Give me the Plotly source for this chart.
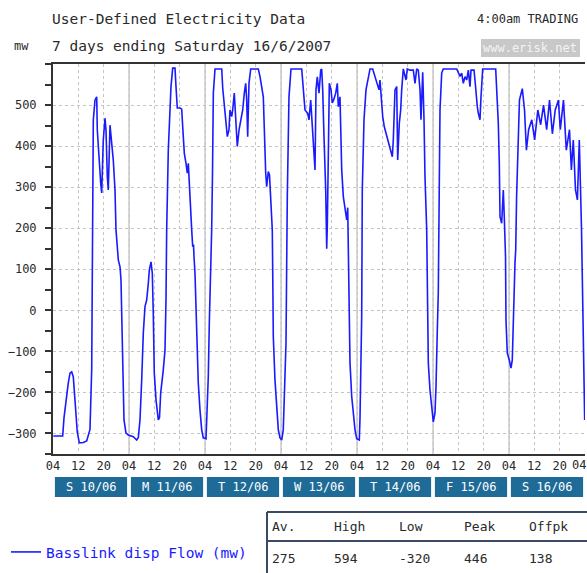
import plotly.graph_objects as go

# ---------------- data ----------------
hours = [0.1, 3.06, 3.47, 4.1, 4.83, 5.37, 5.9, 6.41, 7.26, 7.67, 8.31, 9.57, 10.64, 11.68, 12.22,
         12.73, 13.26, 13.8, 13.99, 14.62, 15.06, 15.38, 15.88, 16.42, 16.74, 17.15, 17.46, 18.0,
         18.54, 19.04, 19.58, 19.89, 20.62, 21.16, 21.47, 22.01, 22.42, 23.05, 23.78,
         25.36, 26.43, 26.94, 27.47, 28.01, 28.52, 29.05, 29.58, 30.1, 30.41, 30.95, 31.36, 31.67,
         31.99, 32.53, 33.25, 33.63, 34.01, 34.83, 35.37, 35.68, 35.9, 36.41, 36.95, 37.26, 37.8,
         38.53, 38.84, 39.25, 40.11, 40.64, 40.96, 41.46, 42.0, 42.41, 42.73, 43.04, 43.26, 43.8,
         44.12, 44.37, 44.53, 44.84, 45.38, 45.88, 46.42, 46.96, 47.46, 47.78, 48.32, 48.54, 49.04,
         49.36, 49.9, 50.11, 50.37, 50.63, 51.16, 53.28, 53.6, 54.1, 54.54, 55.05, 55.58, 55.89,
         56.43, 56.75, 57.25, 57.7, 58.2, 58.74, 59.37, 59.91, 60.41, 60.85, 61.17, 61.48, 61.89,
         62.43, 64.83, 65.37, 66.41, 66.73, 67.17, 67.48, 67.99, 68.37, 68.84, 69.25, 69.38, 69.57,
         70.1, 70.64, 71.15, 71.68, 72.22, 72.72, 73.26, 73.58, 73.8, 73.99, 74.52, 75.16, 78.54,
         79.04, 79.58, 80.43, 80.84, 81.38, 81.88, 82.42, 82.74, 83.05, 83.46, 84.0, 84.54, 84.85,
         85.17, 85.58, 86.12, 86.43, 86.62, 86.94, 87.26, 87.79, 88.2, 88.74, 89.27, 89.78, 90.1,
         90.63, 90.85, 91.17, 91.68, 92.21, 92.75, 93.07, 93.26, 93.47, 93.79, 94.33, 94.83, 95.37,
         95.91, 96.73, 96.95, 97.48, 97.67, 98.21, 98.84, 99.57, 100.11, 100.96, 101.68, 102.41,
         102.95, 103.26, 103.58, 104.12, 104.62, 105.16, 105.69, 106.2, 106.64, 107.15, 107.46,
         108.0, 108.54, 108.85, 109.36, 109.8, 110.11, 110.62, 111.47, 111.88, 112.74, 113.78,
         114.32, 114.85, 115.36, 115.9, 116.21, 116.75, 117.16, 117.47, 118.01, 118.2, 118.52,
         119.05, 119.59, 120.09, 120.63, 120.95, 121.36, 121.67, 121.99, 122.21, 122.75, 123.25,
         127.48, 127.99, 128.53, 129.06, 129.57, 130.11, 130.64, 131.15, 131.68, 132.0, 132.95,
         133.26, 133.58, 133.99, 134.31, 134.84, 135.16, 135.69, 139.8, 140.11, 140.62, 140.94,
         141.16, 141.69, 142.0, 142.2, 142.51, 142.74, 142.9, 143.05, 143.46, 144.09, 144.63,
         145.04, 145.36, 145.89, 146.12,
         146.4, 147.3, 148.2, 148.9, 149.5, 150.2, 151.2, 152.1, 153.1, 154.0, 154.9, 155.9, 156.8,
         157.7, 158.6, 159.6, 160.2, 161.2, 162.1, 163.1, 163.7, 164.3, 165.0, 165.6, 166.2, 166.9,
         167.4, 167.9]
flow = [-306, -306, -262, -218, -177, -153, -150, -162, -257, -297, -323, -322, -318, -290, -145,
        464, 512, 520, 439, 350, 310, 286, 415, 468, 439, 326, 293, 451,
        407, 366, 293, 196, 123, 106, 74, -113, -267, -299, -304,
        -308, -316, -310, -267, -170, -55, 9, 25, 66, 98, 118, 90, -8,
        -153, -218, -267, -262, -201, -145, -97, 25, 196, 390, 480, 545, 590,
        590, 545, 493, 493, 490, 447, 383, 358, 334, 358, 301, 261, 196,
        155, 160, 131, 90, -48, -177, -243, -291, -311, -311, -313, -267, -162,
        -31, 115, 196, 334, 529, 588, 588, 541, 505, 464, 423, 440, 488,
        472, 488, 529, 447, 399, 439, 464, 488, 529, 553, 512, 423, 553,
        588, 588, 569, 520, 423, 334, 301, 338, 330, 261, 196, 98, -64,
        -170, -226, -291, -311, -316, -291, -177, -80, 115, 277, 520, 588, 588,
        537, 488, 480, 464, 512, 439, 374, 342, 537, 569, 529, 585, 588,
        537, 423, 293, 150, 204, 374, 553, 537, 505, 515, 529, 553, 496,
        520, 439, 342, 277, 253, 220, 250, 131, -8, -128, -210, -250, -291,
        -313, -316, -262, -15, 293, 464, 537, 569, 588, 588, 569, 553,
        537, 561, 529, 472, 447, 431, 415, 407, 390, 374, 415,
        537, 545, 366, 456, 488, 537, 588, 561, 588, 585, 585,
        553, 588, 585, 537, 464, 580, 464, 326, 196, 33, -128,
        -194, -243, -272, -250, -186, -48, 42, 310, 488, 578, 588,
        588, 578, 570, 578, 553, 569, 561, 585, 545, 585, 585,
        561, 520, 496, 480, 464, 520, 588, 588, 545, 456, 358,
        228, 212, 253, 293, 228, 171, 131, -24, -104, -121, -141,
        -121, 1, 115, 147,
        277, 512, 540, 488, 390, 440, 464, 415, 488, 452, 500, 440, 512,
        430, 488, 512, 440, 512, 390, 440, 342, 415, 293, 269, 415, 196,
        -48, -267]

tick_hours = list(range(0, 169, 8))
tick_text = ["04", "12", "20"] * 7 + [""]
last_tick_text = "04"
y_ticks = list(range(-300, 501, 100))
day_starts = [0, 24, 48, 72, 96, 120, 144]
day_labels = ["S 10/06", "M 11/06", "T 12/06", "W 13/06", "T 14/06", "F 15/06", "S 16/06"]
stat_names = ["Av.", "High", "Low", "Peak", "Offpk"]
stat_values = ["275", "594", "-320", "446", "138"]
series_name = "Basslink disp Flow (mw)"

# ---------------- layout helpers ----------------
W, H = 587, 573
L, R, T, B = 53, 2, 64, 119
PW, PH = W - L - R, H - T - B
FONT = "DejaVu Sans Mono"
INK = "#2a2a2a"
BLUE = "#1a1aff"
BOX = "#1f6b97"


def px(x):
    return (x - L) / PW


def py(y):
    return (H - B - y) / PH


def note(x, y, text, size, color=INK, xanchor="left", **kw):
    return dict(x=px(x), y=py(y), xref="paper", yref="paper", text=text,
                xanchor=xanchor, yanchor="middle", showarrow=False,
                font=dict(family=FONT, size=size, color=color), **kw)


fig = go.Figure()
fig.add_trace(go.Scatter(x=hours, y=flow, mode="lines", name=series_name,
                         line=dict(color=BLUE, width=1.6), showlegend=True))

shapes = []
annotations = []
# solid day gridlines
for d in day_starts[1:]:
    shapes.append(dict(type="line", xref="x", yref="paper", x0=d, x1=d, y0=0, y1=1,
                       line=dict(color="#bdbdbd", width=1.2), layer="below"))
# day boxes
for d, lab in zip(day_starts, day_labels):
    shapes.append(dict(type="rect", xref="x", yref="paper", x0=d + 0.6, x1=d + 23.4,
                       y0=py(497), y1=py(477), fillcolor=BOX, line=dict(width=0)))
    annotations.append(dict(x=d + 12, y=py(487), xref="x", yref="paper", text=lab,
                            xanchor="center", yanchor="middle", showarrow=False,
                            font=dict(family=FONT, size=12, color="white")))

# final hour label, kept inside the page edge
annotations.append(note(587, 465, last_tick_text, 12, xanchor="right", borderpad=0))

# titles
annotations += [
    note(50, 19, "User-Defined Electricity Data", 14.5),
    note(50, 46, "7 days ending Saturday 16/6/2007", 14.5),
    note(12, 46, "mw", 12),
    note(580, 19, "4:00am TRADING", 12, xanchor="right"),
]
shapes.append(dict(type="rect", xref="paper", yref="paper", x0=px(481), x1=px(580),
                   y0=py(57), y1=py(39), fillcolor="#c8c8c8", line=dict(width=0)))
annotations.append(note(530, 48, "www.erisk.net", 12, color="#f4f4f4", xanchor="center"))

# stats table
TB = "#3a4a66"
shapes += [
    dict(type="line", xref="paper", yref="paper", x0=px(267), x1=px(267), y0=py(573), y1=py(512),
         line=dict(color=TB, width=2)),
    dict(type="line", xref="paper", yref="paper", x0=px(267), x1=px(587), y0=py(512), y1=py(512),
         line=dict(color=TB, width=2)),
    dict(type="line", xref="paper", yref="paper", x0=px(267), x1=px(587), y0=py(541), y1=py(541),
         line=dict(color=TB, width=2)),
]
col_x = [270, 332, 397, 462, 527]
for cx, nm, vl in zip(col_x, stat_names, stat_values):
    annotations.append(note(cx, 526, nm, 13))
    annotations.append(note(cx, 558, vl, 13))

fig.update_layout(
    width=W, height=H, margin=dict(l=L, r=R, t=T, b=B, autoexpand=False),
    paper_bgcolor="white", plot_bgcolor="white",
    shapes=shapes, annotations=annotations,
    legend=dict(x=px(6), y=py(552), xanchor="left", yanchor="middle",
                font=dict(family=FONT, size=14.5, color=BLUE), bgcolor="rgba(0,0,0,0)"),
    xaxis=dict(range=[0, 168], tickmode="array", tickvals=tick_hours, ticktext=tick_text,
               showgrid=True, gridcolor="#c4c4c4", griddash="dot", gridwidth=1,
               showline=True, linecolor="#333333", linewidth=2, mirror=True,
               ticks="", zeroline=False, automargin=False,
               tickfont=dict(family=FONT, size=12, color=INK)),
    yaxis=dict(range=[-350, 600], tickmode="array", tickvals=y_ticks,
               showgrid=True, gridcolor="#c4c4c4", griddash="dot", gridwidth=1,
               showline=True, linecolor="#333333", linewidth=2,
               ticks="outside", ticklen=6, tickwidth=2, tickcolor="#333333",
               minor=dict(dtick=50, tick0=0, ticks="outside", ticklen=6, tickwidth=2,
                          tickcolor="#333333", showgrid=False),
               zeroline=False, ticklabelstandoff=6, automargin=False,
               tickfont=dict(family=FONT, size=12, color=INK)),
)

fig.write_html("out.html", config={"displayModeBar": False},
               post_script="document.body.style.margin='0px';")
